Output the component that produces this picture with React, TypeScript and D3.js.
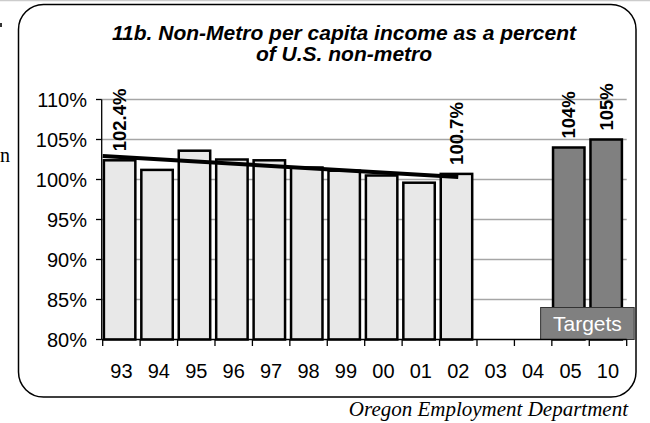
import { useEffect, useRef } from "react";
import * as d3 from "d3";

// years on the x axis
const categories = ["93", "94", "95", "96", "97", "98", "99", "00", "01", "02", "03", "04", "05", "10"];
// actual values (percent)
const actualYears = ["93", "94", "95", "96", "97", "98", "99", "00", "01", "02"];
const actualValues = [102.4, 101.2, 103.6, 102.5, 102.4, 101.5, 101.1, 100.5, 99.6, 100.7];
// targets
const targetYears = ["05", "10"];
const targetValues = [104, 105];
// labelled bars
const labelYears = ["93", "02", "05", "10"];
const labelTexts = ["102.4%", "100.7%", "104%", "105%"];
// linear trend (start at 93, end at 02)
const trendValues = [102.95, 100.3];
const yTicks = [80, 85, 90, 95, 100, 105, 110];

const App = () => {
  const svgRef = useRef(null);

  useEffect(() => {
    const W = 650;
    const H = 423;
    const font = "'Liberation Sans', Arial, sans-serif";

    d3.select(svgRef.current).selectAll("*").remove();
    const svg = d3.select(svgRef.current).attr("width", W).attr("height", H);

    svg.append("rect").attr("width", W).attr("height", H).attr("fill", "#fff");
    svg.append("line").attr("x1", 0).attr("x2", W).attr("y1", 0.5).attr("y2", 0.5)
      .attr("stroke", "#ccc").attr("stroke-width", 1.5);

    // frame
    svg.append("rect")
      .attr("x", 18.5).attr("y", 4.5).attr("width", 617.5).attr("height", 392.5)
      .attr("rx", 25).attr("fill", "none").attr("stroke", "#000").attr("stroke-width", 1.5);

    // cropped text from neighbouring chart
    svg.append("text").attr("x", 0).attr("y", 162).attr("font-family", "'Liberation Serif', serif")
      .attr("font-size", 20).text("n");
    svg.append("rect").attr("x", 0).attr("y", 23).attr("width", 2).attr("height", 4).attr("fill", "#333");

    const x = d3.scaleBand().domain(categories).range([102.7, 626.7]).padding(0);
    const y = d3.scaleLinear().domain([80, 110]).range([339.5, 99.5]);
    const bw = x.bandwidth();
    const barW = bw * 0.84;
    const barX = (c) => x(c) + 1.2;

    // grid
    svg.append("g").selectAll("line").data(yTicks.filter((t) => t > 80)).enter().append("line")
      .attr("x1", 101.7).attr("x2", 626.7)
      .attr("y1", (d) => y(d)).attr("y2", (d) => y(d))
      .attr("stroke", "#a6a6a6").attr("stroke-width", 1.3);

    // title
    const title = svg.append("text").attr("text-anchor", "middle").attr("font-family", font)
      .attr("font-size", 21).attr("font-weight", "bold").attr("font-style", "italic");
    title.append("tspan").attr("x", 344).attr("y", 40).text("11b. Non-Metro per capita income as a percent");
    title.append("tspan").attr("x", 344).attr("y", 61).text("of U.S. non-metro");

    // actual bars
    svg.append("g").selectAll("rect").data(actualYears).enter().append("rect")
      .attr("x", (d) => barX(d))
      .attr("y", (d, i) => y(actualValues[i]))
      .attr("width", barW)
      .attr("height", (d, i) => y(80) - y(actualValues[i]))
      .attr("fill", "#e8e8e8").attr("stroke", "#000").attr("stroke-width", 2.5);

    // target bars
    svg.append("g").selectAll("rect").data(targetYears).enter().append("rect")
      .attr("x", (d) => barX(d))
      .attr("y", (d, i) => y(targetValues[i]))
      .attr("width", barW)
      .attr("height", (d, i) => y(80) - y(targetValues[i]))
      .attr("fill", "#808080").attr("stroke", "#000").attr("stroke-width", 2.5);

    // trend line
    const line = d3.line().x((d) => d[0]).y((d) => y(d[1]));
    svg.append("path")
      .attr("d", line([[x("93"), trendValues[0]], [x("02") + bw / 2, trendValues[1]]]))
      .attr("fill", "none").attr("stroke", "#000").attr("stroke-width", 4);

    // Targets box
    const bx0 = x("05") - 0.3 * bw;
    const bx1 = x("10") + 1.2 * bw;
    svg.append("rect")
      .attr("x", bx0).attr("y", y(84)).attr("width", bx1 - bx0).attr("height", y(80) - y(84))
      .attr("fill", "#808080").attr("stroke", "#333").attr("stroke-width", 1);
    svg.append("text").attr("x", (bx0 + bx1) / 2).attr("y", 331).attr("text-anchor", "middle")
      .attr("font-family", font).attr("font-size", 21).attr("fill", "#fff").text("Targets");

    // bar labels
    const allYears = actualYears.concat(targetYears);
    const allValues = actualValues.concat(targetValues);
    svg.append("g").selectAll("text").data(labelYears).enter().append("text")
      .attr("transform", (d) => {
        const v = allValues[allYears.indexOf(d)];
        return `translate(${barX(d) + barW / 2},${y(v) - 9}) rotate(-90)`;
      })
      .attr("dy", "0.36em")
      .attr("font-family", font).attr("font-size", 18.5).attr("font-weight", "bold")
      .text((d, i) => labelTexts[i]);

    // Y axis
    svg.append("line").attr("x1", 101.7).attr("x2", 101.7).attr("y1", y(110)).attr("y2", y(80))
      .attr("stroke", "#000").attr("stroke-width", 1.3);
    const yg = svg.append("g").selectAll("g").data(yTicks).enter().append("g");
    yg.append("line").attr("x1", 96).attr("x2", 101.7).attr("y1", (d) => y(d)).attr("y2", (d) => y(d))
      .attr("stroke", "#000").attr("stroke-width", 1.3);
    yg.append("text").attr("x", 87).attr("y", (d) => y(d)).attr("dy", "0.36em")
      .attr("text-anchor", "end").attr("font-family", font).attr("font-size", 20)
      .text((d) => `${d}%`);

    // X axis
    svg.append("line").attr("x1", 101.7).attr("x2", 626.7).attr("y1", y(80)).attr("y2", y(80))
      .attr("stroke", "#000").attr("stroke-width", 1.3);
    const ticks = categories.map((c) => x(c)).concat([626.7]);
    svg.append("g").selectAll("line").data(ticks).enter().append("line")
      .attr("x1", (d) => d).attr("x2", (d) => d).attr("y1", y(80)).attr("y2", y(80) + 6.5)
      .attr("stroke", "#000").attr("stroke-width", 1.3);
    svg.append("g").selectAll("text").data(categories).enter().append("text")
      .attr("x", (d) => x(d) + bw / 2).attr("y", 378).attr("text-anchor", "middle")
      .attr("font-family", font).attr("font-size", 20).text((d) => d);

    // source
    svg.append("text").attr("x", 628).attr("y", 415.5).attr("text-anchor", "end")
      .attr("font-family", "'Liberation Serif', 'Times New Roman', serif")
      .attr("font-style", "italic").attr("font-size", 21).text("Oregon Employment Department");
  }, []);

  return (
    <div style={{ position: "absolute", left: 0, top: 0 }}>
      <svg ref={svgRef}></svg>
    </div>
  );
};

export default App;
